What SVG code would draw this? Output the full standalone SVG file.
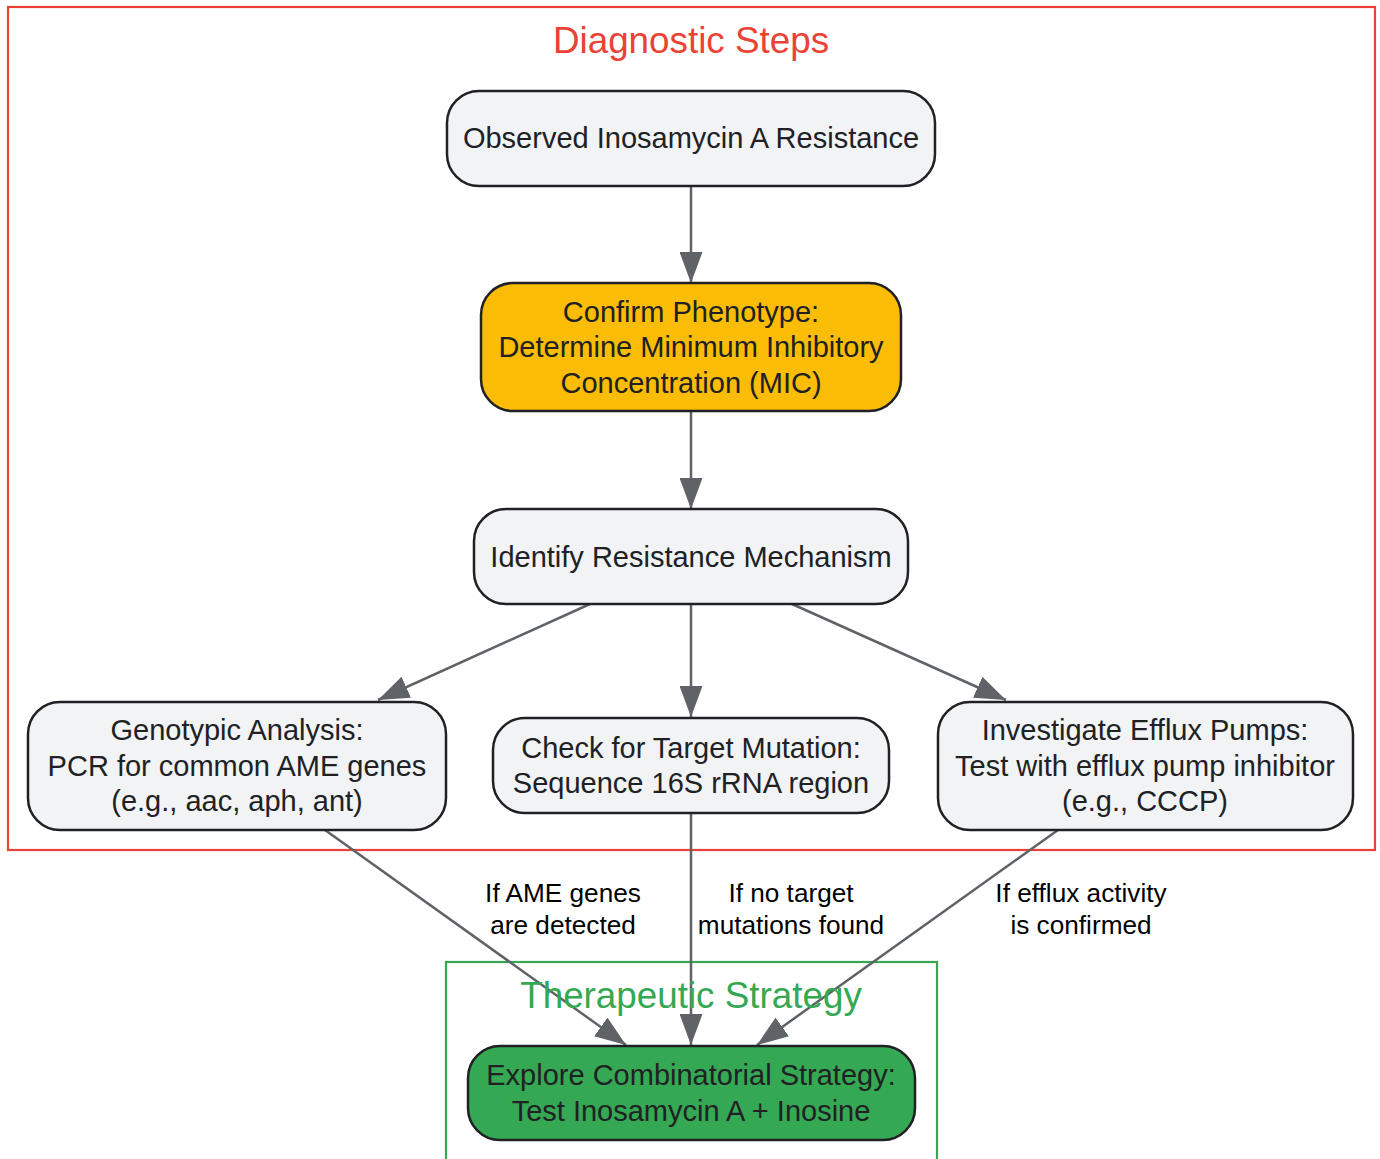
<svg xmlns="http://www.w3.org/2000/svg" width="1380" height="1159" viewBox="0 0 1380 1159">
<style>
.cl{fill:none;stroke-width:2.2}
.ct{font-family:"Liberation Sans",Arial,sans-serif;font-size:36.8px;text-anchor:middle}
.nd{stroke:#202124;stroke-width:2.5}
.nt{font-family:"Liberation Sans",Arial,sans-serif;font-size:29px;fill:#202124;text-anchor:middle}
.el{font-family:"Liberation Sans",Arial,sans-serif;font-size:26.2px;fill:#000;text-anchor:middle}
.e{stroke:#5f6368;stroke-width:2.5;fill:none;marker-end:url(#ah)}
</style>
<defs>
<marker id="ah" markerWidth="31" markerHeight="23" refX="31" refY="11.5" orient="auto" markerUnits="userSpaceOnUse">
<path d="M0,0 L31,11.5 L0,23 z" fill="#5f6368"/>
</marker>
</defs>
<rect width="1380" height="1159" fill="#fff"/>
<g id="cluster_diag">
<rect class="cl" x="8" y="7" width="1367" height="843" stroke="#ea4335"/>
<text class="ct" x="691" y="53" fill="#ea4335">Diagnostic Steps</text>
</g>
<g id="cluster_ther">
<rect class="cl" x="446" y="962" width="491" height="210" stroke="#34a853"/>
</g>
<g id="edges">
<line class="e" x1="691" y1="186" x2="691" y2="283"/>
<line class="e" x1="691" y1="411" x2="691" y2="509"/>
<line class="e" x1="590" y1="604" x2="378" y2="700"/>
<line class="e" x1="691" y1="604" x2="691" y2="717"/>
<line class="e" x1="792" y1="604" x2="1006" y2="700"/>
<line class="e" x1="325" y1="830" x2="626" y2="1045"/>
<line class="e" x1="691" y1="813" x2="691" y2="1045"/>
<line class="e" x1="1058" y1="830" x2="757" y2="1045"/>
<text class="el" x="563" y="902">If AME genes</text>
<text class="el" x="563" y="934">are detected</text>
<text class="el" x="791" y="902">If no target</text>
<text class="el" x="791" y="934">mutations found</text>
<text class="el" x="1081" y="902">If efflux activity</text>
<text class="el" x="1081" y="934">is confirmed</text>
</g>
<text class="ct" x="691" y="1008" fill="#34a853">Therapeutic Strategy</text>
<g id="n_observed">
<rect class="nd" x="447" y="91" width="488" height="95" rx="32" fill="#f1f3f4"/>
<text class="nt" x="691" y="148">Observed Inosamycin A Resistance</text>
</g>
<g id="n_confirm">
<rect class="nd" x="481" y="283" width="420" height="128" rx="32" fill="#fbbc05"/>
<text class="nt" x="691" y="322">Confirm Phenotype:</text>
<text class="nt" x="691" y="357">Determine Minimum Inhibitory</text>
<text class="nt" x="691" y="393">Concentration (MIC)</text>
</g>
<g id="n_identify">
<rect class="nd" x="474" y="509" width="434" height="95" rx="32" fill="#f1f3f4"/>
<text class="nt" x="691" y="567">Identify Resistance Mechanism</text>
</g>
<g id="n_genotypic">
<rect class="nd" x="28" y="702" width="418" height="128" rx="32" fill="#f1f3f4"/>
<text class="nt" x="237" y="740">Genotypic Analysis:</text>
<text class="nt" x="237" y="776">PCR for common AME genes</text>
<text class="nt" x="237" y="811">(e.g., aac, aph, ant)</text>
</g>
<g id="n_target">
<rect class="nd" x="493" y="718" width="396" height="95" rx="32" fill="#f1f3f4"/>
<text class="nt" x="691" y="758">Check for Target Mutation:</text>
<text class="nt" x="691" y="793">Sequence 16S rRNA region</text>
</g>
<g id="n_efflux">
<rect class="nd" x="938" y="702" width="415" height="128" rx="32" fill="#f1f3f4"/>
<text class="nt" x="1145" y="740">Investigate Efflux Pumps:</text>
<text class="nt" x="1145" y="776">Test with efflux pump inhibitor</text>
<text class="nt" x="1145" y="811">(e.g., CCCP)</text>
</g>
<g id="n_combo">
<rect class="nd" x="468" y="1046" width="447" height="94" rx="32" fill="#34a853"/>
<text class="nt" x="691" y="1085">Explore Combinatorial Strategy:</text>
<text class="nt" x="691" y="1121">Test Inosamycin A + Inosine</text>
</g>
</svg>
